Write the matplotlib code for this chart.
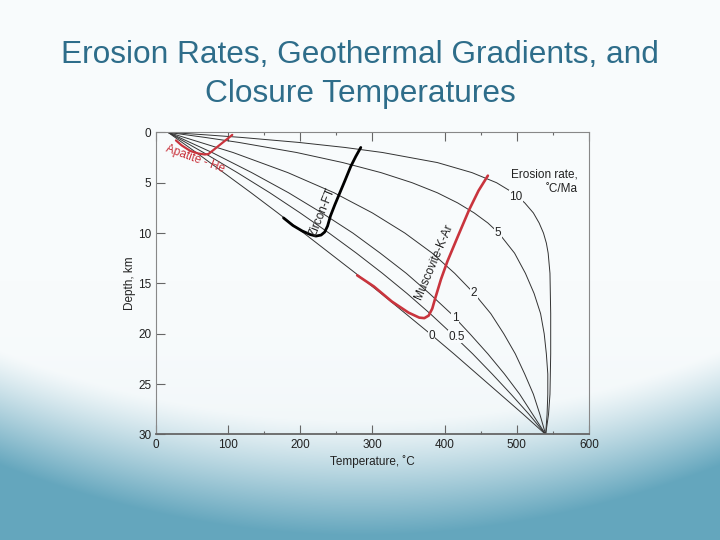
import matplotlib.pyplot as plt
import numpy as np

plt.rcParams['font.family'] = ['Liberation Sans', 'DejaVu Sans']

# steady-state geotherms, one per erosion rate (depth km, temperature C)
depth_even = [0, 2, 4, 6, 8, 10, 12, 14, 16, 18, 20, 22, 24, 26, 28, 30]
temp_rate0 = [17, 56, 94, 132, 169, 205, 241, 277, 312, 346, 380, 413, 445, 477, 509, 540]
temp_rate05 = [17, 66, 113, 158, 200, 240, 278, 314, 348, 380, 410, 439, 466, 492, 517, 540]
temp_rate1 = [17, 78, 133, 184, 230, 273, 311, 347, 379, 409, 435, 460, 483, 504, 522, 540]
temp_rate2 = [17, 107, 183, 247, 300, 345, 383, 414, 441, 464, 482, 498, 511, 523, 532, 540]

depth_rate5 = [0, 0.5, 1, 2, 3, 4, 5, 6, 7, 8, 9, 10, 12, 14, 16, 18, 20, 22, 24, 26, 28, 30]
temp_rate5 = [17, 68, 115, 195, 259, 312, 355, 390, 418, 441, 460, 475, 497, 512, 524, 533,
              538, 541, 543, 543, 542, 540]

depth_rate10 = [0, 0.25, 0.5, 1, 1.5, 2, 3, 4, 5, 6, 7, 8, 9, 10, 11, 12, 14, 18, 22, 26, 28, 30]
temp_rate10 = [17, 70, 118, 198, 262, 314, 390, 438, 472, 495, 511, 523, 531, 537, 541, 543.5,
               546, 547, 547, 546, 544, 540]

# closure temperature curves
apatite_t = [28, 36, 48, 59, 68, 73, 80, 90, 100, 106]
apatite_z = [0.8, 1.3, 1.85, 2.1, 2.2, 2.15, 1.75, 1.17, 0.6, 0.25]

zircon_t = [177, 190, 203, 214, 222, 229, 234, 238, 242, 248, 255, 262, 270, 277, 284]
zircon_z = [8.5, 9.25, 9.8, 10.15, 10.3, 10.2, 9.9, 9.3, 8.3, 7.2, 6.0, 4.8, 3.4, 2.4, 1.5]

musc_t = [279, 302, 327, 350, 365, 372, 378, 383, 387, 395, 404, 418, 434, 447, 460]
musc_z = [14.2, 15.3, 16.8, 17.9, 18.4, 18.45, 18.2, 17.5, 16.5, 14.6, 12.8, 10.4, 7.7, 5.8, 4.3]

fig = plt.figure(figsize=(7.2, 5.4), dpi=100)

# slide background: white top, blue swoosh at the bottom
H, W = 540, 720
yy, xx = np.mgrid[0:H, 0:W]
u = (xx - 360) / 360.0
arc = 420 - 70 * u ** 2
t = np.clip((yy - arc) / 115.0, 0, 1) ** 1.2
faint = np.clip((yy - 280) / 240.0, 0, 1) ** 2 * 0.12
s = faint + (1 - faint) * t
top = np.array([248, 251, 252]) / 255.0
bot = np.array([100, 166, 189]) / 255.0
img = top[None, None, :] * (1 - s[..., None]) + bot[None, None, :] * s[..., None]
bg = fig.add_axes([0, 0, 1, 1], zorder=-1)
bg.imshow(img, aspect='auto', extent=[0, 1, 0, 1], origin='upper')
bg.axis('off')

fig.text(0.5, 0.862, 'Erosion Rates, Geothermal Gradients, and\nClosure Temperatures',
         ha='center', va='center', fontsize=22.8, color='#2e6d8a', linespacing=1.42)

ax = fig.add_axes([0.2163, 0.1955, 0.6017, 0.5594])
ax.set_facecolor('none')

lc = '#333333'
lw = 0.7
ax.plot(temp_rate0, depth_even, color=lc, lw=lw)
ax.plot(temp_rate05, depth_even, color=lc, lw=lw)
ax.plot(temp_rate1, depth_even, color=lc, lw=lw)
ax.plot(temp_rate2, depth_even, color=lc, lw=lw)
ax.plot(temp_rate5, depth_rate5, color=lc, lw=lw)
ax.plot(temp_rate10, depth_rate10, color=lc, lw=lw)

red = '#c9343d'
ax.plot(apatite_t, apatite_z, color=red, lw=1.6, solid_capstyle='round')
ax.plot(zircon_t, zircon_z, color='black', lw=2.0, solid_capstyle='round')
ax.plot(musc_t, musc_z, color=red, lw=1.9, solid_capstyle='round')

# rate labels sit in gaps of the curves
box = dict(facecolor='#f8fbfc', edgecolor='none', pad=0.4)
for x, y, lab in [(382, 20.2, '0'), (417, 20.3, '0.5'), (415, 18.4, '1'),
                  (441, 16.0, '2'), (474, 10.0, '5'), (499, 6.4, '10')]:
    ax.text(x, y, lab, fontsize=8.5, ha='center', va='center', color='#222222', bbox=box)

ax.text(584, 4.2, 'Erosion rate,', fontsize=8.5, ha='right', va='center', color='#222222')
ax.text(584, 5.6, '\u02daC/Ma', fontsize=8.5, ha='right', va='center', color='#222222')

ax.text(54, 2.6, 'Apatite - He', fontsize=8.5, color=red, rotation=-20,
        ha='center', va='center')
ax.text(231, 7.9, 'Zircon-FT', fontsize=8.5, color='#222222', rotation=68,
        ha='center', va='center')
ax.text(386, 12.9, 'Muscovite-K-Ar', fontsize=8.5, color='#222222', rotation=67,
        ha='center', va='center')

ax.set_xlim(0, 600)
ax.set_ylim(30, 0)
ax.set_xticks([0, 100, 200, 300, 400, 500, 600])
ax.set_xticks([150, 250, 450, 550], minor=True)
ax.set_yticks([0, 5, 10, 15, 20, 25, 30])
ax.tick_params(axis='both', which='major', direction='in', length=6.5, width=0.8,
               color='#666666', labelsize=8.5, labelcolor='#222222', pad=3)
ax.tick_params(axis='x', which='minor', direction='in', length=2, width=0.8, color='#666666')
ax.tick_params(axis='x', top=True, which='both')

ax.set_xlabel('Temperature, \u02daC', fontsize=8.5, color='#222222', labelpad=3)
ax.set_ylabel('Depth, km', fontsize=8.5, color='#222222', labelpad=2)

for side in ['left', 'right', 'top']:
    ax.spines[side].set_color('#888888')
    ax.spines[side].set_linewidth(0.8)
ax.spines['bottom'].set_color('#666666')
ax.spines['bottom'].set_linewidth(1.3)

fig.savefig('out.png', dpi=100)
